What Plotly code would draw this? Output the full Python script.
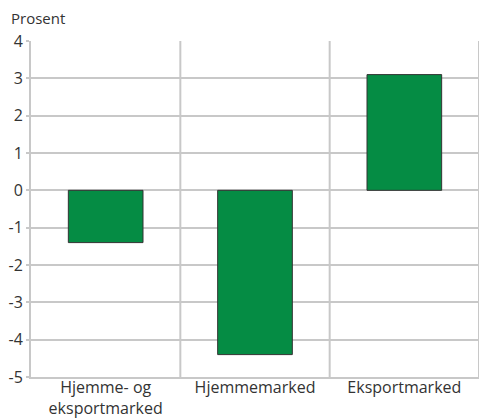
import plotly.graph_objects as go

categories = ["Hjemme- og<br>eksportmarked", "Hjemmemarked", "Eksportmarked"]
values = [-1.4, -4.4, 3.1]
y_ticks = [4, 3, 2, 1, 0, -1, -2, -3, -4, -5]
y_tick_labels = ["4", "3", "2", "1", "0", "-1", "-2", "-3", "-4", "-5"]
y_title = "Prosent"

grid = "#c8c8c8"
fig = go.Figure()
fig.add_trace(go.Bar(
    x=categories, y=values,
    marker=dict(color="#058c44", line=dict(color="#333333", width=1)),
    width=0.5,
))

for xpos in [0.5, 1.5, 2.5]:
    fig.add_shape(type="line", xref="x", yref="y", x0=xpos, x1=xpos, y0=-5, y1=4,
                  line=dict(color=grid, width=2), layer="below")

fig.update_layout(
    width=479, height=418,
    margin=dict(l=31, r=0, t=41, b=41),
    plot_bgcolor="white", paper_bgcolor="white",
    font=dict(family="Open Sans, Noto Sans, sans-serif", size=16, color="#333333"),
    showlegend=False,
    xaxis=dict(range=[-0.5, 2.5], showgrid=False, showline=True, linecolor=grid, linewidth=2,
               mirror=False, ticks="", tickfont=dict(size=16), automargin=False,
               ticklabelstandoff=-5),
    yaxis=dict(range=[-5, 4], tickvals=y_ticks, ticktext=y_tick_labels,
               showgrid=True, gridcolor=grid, gridwidth=2,
               showline=True, linecolor=grid, linewidth=2, zeroline=False,
               ticks="outside", ticklen=3, tickcolor=grid, tickwidth=2,
               tickfont=dict(size=16), automargin=False),
    annotations=[dict(text=y_title, xref="paper", yref="paper", x=0, y=1, xshift=-22, yshift=11,
                      xanchor="left", yanchor="bottom", showarrow=False, font=dict(size=15))],
)

fig.write_html("out.html", config={"displayModeBar": False},
               post_script="document.body.style.margin='0';")
